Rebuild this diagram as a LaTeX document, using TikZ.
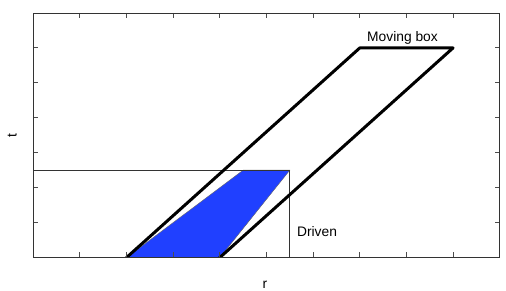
\documentclass[tikz,border=0pt]{standalone}
\usepackage{fontspec}
\setmainfont{Liberation Sans}
\begin{document}
\begin{tikzpicture}[x=46.64pt,y=34.93pt,
  frame/.style={draw=black!80,line width=0.9pt},
  tick/.style={draw=black!70,line width=0.9pt},
  thin/.style={draw=black!80,line width=0.8pt},
  thick box/.style={draw=black,line width=3pt,line join=round},
  blue fill/.style={fill=fillblue,draw=black!60,line width=0.4pt},
  lab/.style={font=\fontsize{13.8}{16}\selectfont,inner sep=0pt,anchor=base}]
\definecolor{fillblue}{RGB}{32,64,255}
\useasboundingbox (-0.714,-0.959) rectangle (10.135,7.372);
% blue region
\path[blue fill] (2,0) -- (4.5,2.5) -- (5.5,2.5) -- (4,0) -- cycle;
% driven lines
\draw[thin] (0,2.5) -- (5.5,2.5) -- (5.5,0);
% moving box
\begin{scope}
\clip (0,0) rectangle (10,7);
\draw[thick box] (2,-0.2) -- (2,0) -- (7,6) -- (9,6) -- (4,0) -- (3.833,-0.2);
\end{scope}
% ticks
\foreach \i in {1,...,9} {
  \draw[tick] (\i,0) -- ++(0,5pt);
  \draw[tick] (\i,7) -- ++(0,-5pt);
}
\foreach \j in {1,...,6} {
  \draw[tick] (0,\j) -- ++(5pt,0);
  \draw[tick] (10,\j) -- ++(-5pt,0);
}
% frame
\draw[frame] (0,0) rectangle (10,7);
% labels
\node[lab] (mb) at (7.916,6.178) {Moving box};
\node[lab] (dr) at (6.083,0.595) {Driven};
\node[lab] (rl) at (4.966,-0.89) {r};
\node[lab,rotate=90] (tl) at (-0.36,3.5) {t};
\end{tikzpicture}
\end{document}
